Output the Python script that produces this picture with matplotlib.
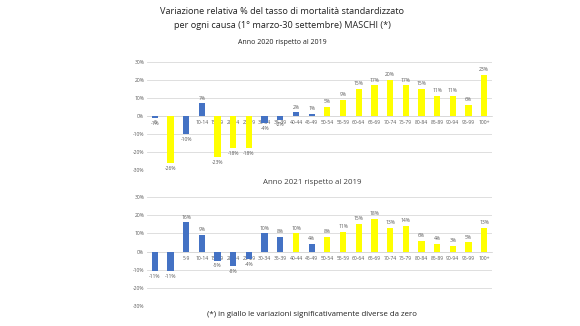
import numpy as np
import matplotlib.pyplot as plt

age_groups = ['0', '1-4', '5-9', '10-14', '15-19', '20-24', '25-29', '30-34', '35-39',
              '40-44', '45-49', '50-54', '55-59', '60-64', '65-69', '70-74', '75-79',
              '80-84', '85-89', '90-94', '95-99', '100+']

var_2020 = [-1, -26, -10, 7, -23, -18, -18, -4, -2, 2, 1, 5, 9, 15, 17, 20, 17, 15, 11, 11, 6, 23]
signif_2020 = [0, 1, 0, 0, 1, 1, 1, 0, 0, 0, 0, 1, 1, 1, 1, 1, 1, 1, 1, 1, 1, 1]

var_2021 = [-11, -11, 16, 9, -5, -8, -4, 10, 8, 10, 4, 8, 11, 15, 18, 13, 14, 6, 4, 3, 5, 13]
signif_2021 = [0, 0, 0, 0, 0, 0, 0, 0, 0, 1, 0, 1, 1, 1, 1, 1, 1, 1, 1, 1, 1, 1]

yticks = [-30, -20, -10, 0, 10, 20, 30]

BLUE = '#4472C4'
YELLOW = '#FFFF00'
GREY_TXT = '#595959'

plt.rcParams['font.family'] = ['Open Sans', 'DejaVu Sans']

fig = plt.figure(figsize=(5.8, 3.26), dpi=100)

fig.text(282 / 580, 1 - 12 / 326, 'Variazione relativa % del tasso di mortalità standardizzato',
         ha='center', va='center', fontsize=6.6, color='#222222')
fig.text(282 / 580, 1 - 26 / 326, 'per ogni causa (1° marzo-30 settembre) MASCHI (*)',
         ha='center', va='center', fontsize=6.6, color='#222222')
fig.text(282 / 580, 1 - 42 / 326, 'Anno 2020 rispetto al 2019',
         ha='center', va='center', fontsize=5, color='#222222')
fig.text(312 / 580, 1 - 183 / 326, 'Anno 2021 rispetto al 2019',
         ha='center', va='center', fontsize=5.7, color='#404040')
fig.text(312 / 580, 1 - 315 / 326, '(*) in giallo le variazioni significativamente diverse da zero',
         ha='center', va='center', fontsize=5.7, color='#222222')


def draw_panel(ax, values, signif):
    x = np.arange(len(age_groups))
    ax.spines['bottom'].set_position(('data', 0))
    colors = [YELLOW if s else BLUE for s in signif]
    ax.bar(x, values, width=0.4, color=colors, zorder=3)
    for xi, v in zip(x, values):
        if v >= 0:
            ax.annotate(f'{v}%', (xi, v), xytext=(0, 2), textcoords='offset points',
                        ha='center', va='bottom', fontsize=3.6, color=GREY_TXT)
        else:
            ax.annotate(f'{v}%', (xi, v), xytext=(0, -2), textcoords='offset points',
                        ha='center', va='top', fontsize=3.6, color=GREY_TXT)
    ax.set_xlim(-0.5, len(age_groups) - 0.5)
    ax.set_ylim(-30, 30)
    ax.set_yticks(yticks)
    ax.set_yticklabels([f'{t}%' for t in yticks], fontsize=3.6, color=GREY_TXT)
    ax.set_xticks(x)
    ax.set_xticklabels(age_groups, fontsize=3.6, color=GREY_TXT)
    ax.spines['bottom'].set_color('#d9d9d9')
    ax.spines['bottom'].set_linewidth(0.6)
    for s in ['top', 'right', 'left']:
        ax.spines[s].set_visible(False)
    ax.tick_params(axis='both', length=0, pad=2)
    ax.tick_params(axis='x', pad=3)
    ax.grid(axis='y', color='#d9d9d9', linewidth=0.6, zorder=0)
    ax.set_axisbelow(True)


left = 147 / 580
width = (492 - 147) / 580
ax1 = fig.add_axes([left, 1 - 170 / 326, width, (170 - 62) / 326])
ax2 = fig.add_axes([left, 1 - 306 / 326, width, (306 - 197) / 326])

draw_panel(ax1, var_2020, signif_2020)
draw_panel(ax2, var_2021, signif_2021)

fig.savefig('out.png', dpi=100)
